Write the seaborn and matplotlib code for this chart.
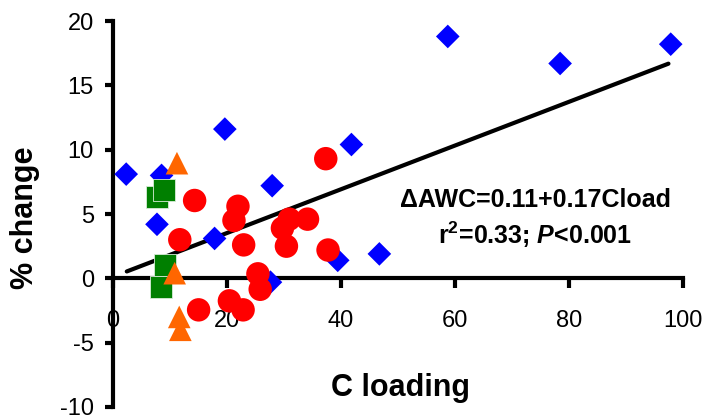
import matplotlib
matplotlib.use("Agg")
import matplotlib.pyplot as plt
import numpy as np
import pandas as pd
import seaborn as sns

# Percent change in available water capacity vs. carbon loading, by amendment group
blue_x = [2.4, 8.6, 7.8, 17.9, 19.7, 28.0, 27.7, 39.5, 41.9, 46.8, 58.8, 78.5, 97.9]
blue_y = [8.1, 8.0, 4.2, 3.1, 11.6, 7.2, -0.3, 1.4, 10.4, 1.9, 18.8, 16.7, 18.2]

red_x = [14.4, 11.8, 22.0, 21.3, 23.0, 37.4, 31.0, 34.2, 29.8, 30.5, 37.8, 25.5, 25.9, 15.1, 20.5, 22.9]
red_y = [6.05, 3.0, 5.6, 4.5, 2.6, 9.3, 4.6, 4.6, 3.9, 2.5, 2.2, 0.35, -0.85, -2.45, -1.75, -2.45]

green_x = [7.8, 9.1, 9.2, 8.5]
green_y = [6.35, 6.9, 1.05, -0.65]

orange_x = [11.3, 10.9, 11.7, 11.9]
orange_y = [8.95, 0.4, -3.0, -4.0]

# Fitted regression: dAWC = 0.11 + 0.17 * Cload
fit_intercept = 0.11
fit_slope = 0.17
fit_x = [2.5, 97.5]

x_ticks = [0, 20, 40, 60, 80, 100]
y_ticks = [-10, -5, 0, 5, 10, 15, 20]

sns.set_style("ticks")
plt.rcParams["font.family"] = ["Liberation Sans", "DejaVu Sans"]
plt.rcParams["mathtext.fontset"] = "custom"
plt.rcParams["mathtext.rm"] = "Liberation Sans:bold"
plt.rcParams["mathtext.it"] = "Liberation Sans:bold:italic"
plt.rcParams["mathtext.bf"] = "Liberation Sans:bold"
plt.rcParams["axes.unicode_minus"] = False
plt.rcParams["text.color"] = "black"
plt.rcParams["axes.labelcolor"] = "black"
plt.rcParams["xtick.color"] = "black"
plt.rcParams["ytick.color"] = "black"

fig = plt.figure(figsize=(7.09, 4.17), dpi=100)
ax = fig.add_axes([0.1587, 0.0240, 0.8042, 0.9256])

fit_df = pd.DataFrame({"x": fit_x})
fit_df["y"] = fit_intercept + fit_slope * fit_df["x"]
sns.lineplot(data=fit_df, x="x", y="y", ax=ax, color="black", linewidth=3.0,
             solid_capstyle="round", zorder=3)

groups = [
    (blue_x, blue_y, "#0000FF", "D", 145, "none", 0),
    (red_x, red_y, "#FF0000", "o", 285, "none", 0),
    (green_x, green_y, "#007F00", "s", 250, "#D8ECD8", 0.6),
    (orange_x, orange_y, "#FF6600", "^", 265, "none", 0),
]
for i, (gx, gy, col, mk, size, ec, lw) in enumerate(groups):
    sns.scatterplot(x=gx, y=gy, ax=ax, color=col, marker=mk, s=size,
                    edgecolor=ec, linewidth=lw, zorder=4 + i, clip_on=False,
                    legend=False)

ax.set_xlim(0, 100)
ax.set_ylim(-10, 20)
ax.set_xticks(x_ticks)
ax.set_yticks(y_ticks)

for side in ["top", "right"]:
    ax.spines[side].set_visible(False)
ax.spines["bottom"].set_position(("data", 0))
for side in ["left", "bottom"]:
    ax.spines[side].set_linewidth(3.0)
    ax.spines[side].set_color("black")
    ax.spines[side].set_zorder(2)

ax.tick_params(axis="x", direction="out", length=7, width=3, pad=16,
               labelsize=17, colors="black")
ax.tick_params(axis="y", direction="out", length=5.5, width=3, pad=8,
               labelsize=17, colors="black")

ax.set_xlabel("")
ax.set_ylabel("")
ax.text(50.5, -9.18, "C loading", ha="center", va="baseline",
        fontsize=22, fontweight="bold")
ax.text(-13.9, 4.7, "% change", ha="center", va="baseline", rotation=90,
        rotation_mode="anchor", fontsize=22, fontweight="bold")

ax.text(74.1, 5.58, "\u0394AWC=0.11+0.17Cload", ha="center", va="baseline",
        fontsize=18, fontweight="bold")
ax.text(74.1, 2.68, "r$^{2}$=0.33; $P$<0.001", ha="center", va="baseline",
        fontsize=18, fontweight="bold")

fig.savefig("out.png", dpi=100)
